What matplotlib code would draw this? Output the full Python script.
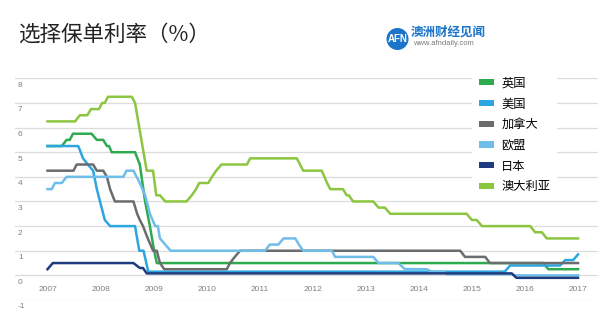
import matplotlib
matplotlib.use("Agg")
import matplotlib.pyplot as plt
from matplotlib.patches import Patch, Ellipse
import numpy as np

plt.rcParams['font.family'] = ['Noto Sans CJK SC', 'DejaVu Sans']

# --- Daten ---
labels = ['英国', '美国', '加拿大', '欧盟', '日本', '澳大利亚']
colors = ['#2EAA4F', '#2CA6E0', '#6B6C6E', '#6FBDE9', '#1F3C7E', '#8CC640']

uk_t = [2007.00, 2007.27, 2007.36, 2007.42, 2007.48, 2007.83, 2007.93, 2008.05, 2008.12, 2008.16,
        2008.21, 2008.65, 2008.74, 2008.84, 2008.93, 2009.01, 2009.06, 2016.35, 2016.44, 2017.00]
uk_v = [5.25, 5.25, 5.5, 5.5, 5.75, 5.75, 5.5, 5.5, 5.25, 5.25,
        5.0, 5.0, 4.5, 3.0, 2.0, 1.0, 0.5, 0.5, 0.25, 0.25]

us_t = [2007.00, 2007.58, 2007.67, 2007.76, 2007.86, 2007.93, 2007.99, 2008.08, 2008.18, 2008.65,
        2008.73, 2008.81, 2008.90, 2015.62, 2015.72, 2016.66, 2016.76, 2016.91, 2017.00]
us_v = [5.25, 5.25, 4.75, 4.5, 4.25, 3.5, 3.0, 2.25, 2.0, 2.0,
        1.0, 1.0, 0.15, 0.15, 0.4, 0.4, 0.62, 0.62, 0.85]

ca_t = [2007.00, 2007.49, 2007.55, 2007.86, 2007.93, 2008.05, 2008.12, 2008.18, 2008.27, 2008.62,
        2008.69, 2008.74, 2008.80, 2008.89, 2008.99, 2009.06, 2009.12, 2009.20, 2010.38, 2010.44,
        2010.53, 2010.63, 2014.78, 2014.87, 2015.25, 2015.34, 2017.00]
ca_v = [4.25, 4.25, 4.5, 4.5, 4.25, 4.25, 4.0, 3.5, 3.0, 3.0,
        2.5, 2.25, 2.0, 1.5, 1.0, 1.0, 0.5, 0.25, 0.25, 0.5,
        0.75, 1.0, 1.0, 0.75, 0.75, 0.5, 0.5]

eu_t = [2007.00, 2007.08, 2007.14, 2007.27, 2007.36, 2008.43, 2008.49, 2008.62, 2008.74, 2008.84,
        2008.93, 2009.03, 2009.08, 2009.12, 2009.22, 2009.32, 2011.10, 2011.19, 2011.35, 2011.45,
        2011.67, 2011.74, 2011.82, 2012.36, 2012.42, 2013.14, 2013.24, 2013.61, 2013.74, 2014.15,
        2014.24, 2014.46, 2014.53, 2015.75, 2015.81, 2017.00]
eu_v = [3.5, 3.5, 3.75, 3.75, 4.0, 4.0, 4.25, 4.25, 3.75, 3.25,
        2.5, 2.0, 2.0, 1.5, 1.25, 1.0, 1.0, 1.25, 1.25, 1.5,
        1.5, 1.25, 1.0, 1.0, 0.75, 0.75, 0.5, 0.5, 0.25, 0.25,
        0.15, 0.15, 0.05, 0.05, 0.0, 0.0]

jp_t = [2007.00, 2007.10, 2008.62, 2008.74, 2008.80, 2008.87, 2015.75, 2015.84, 2017.00]
jp_v = [0.25, 0.5, 0.5, 0.3, 0.3, 0.08, 0.08, -0.1, -0.1]

au_t = [2007.00, 2007.52, 2007.61, 2007.75, 2007.82, 2007.97, 2008.03, 2008.08, 2008.14, 2008.59,
        2008.65, 2008.87, 2008.99, 2009.05, 2009.12, 2009.22, 2009.62, 2009.72, 2009.80, 2009.86,
        2010.03, 2010.10, 2010.18, 2010.28, 2010.76, 2010.82, 2011.70, 2011.76, 2011.82, 2012.17,
        2012.27, 2012.33, 2012.57, 2012.64, 2012.68, 2012.76, 2013.14, 2013.24, 2013.36, 2013.46,
        2014.90, 2015.00, 2015.09, 2015.19, 2016.10, 2016.19, 2016.32, 2016.41, 2017.00]
au_v = [6.25, 6.25, 6.5, 6.5, 6.75, 6.75, 7.0, 7.0, 7.25, 7.25,
        7.0, 4.25, 4.25, 3.25, 3.25, 3.0, 3.0, 3.25, 3.5, 3.75,
        3.75, 4.0, 4.25, 4.5, 4.5, 4.75, 4.75, 4.5, 4.25, 4.25,
        3.75, 3.5, 3.5, 3.25, 3.25, 3.0, 3.0, 2.75, 2.75, 2.5,
        2.5, 2.25, 2.25, 2.0, 2.0, 1.75, 1.75, 1.5, 1.5]

series = [(uk_t, uk_v), (us_t, us_v), (ca_t, ca_v), (eu_t, eu_v), (jp_t, jp_v), (au_t, au_v)]
years = list(range(2007, 2018))
yticks = list(range(-1, 9))

# --- Layout ---
fig = plt.figure(figsize=(6.15, 3.24), dpi=100)
W, H = 615, 324
ax = fig.add_axes([15 / W, (H - 300) / H, 583 / W, 221.7 / H])
ax.set_xlim(2007 - 32.5 / 53.05, 2017 + 20 / 53.05)
ax.set_ylim(-1, 8)
ax.axis('off')

for v in yticks:
    ax.axhline(v, color='#dcdcdc', lw=0.9, zorder=1)
    ax.annotate(str(v), xy=(0, v), xycoords=ax.get_yaxis_transform(),
                xytext=(3, -7), textcoords='offset pixels', ha='left', va='center',
                fontsize=6, color='#808080', family=['Liberation Sans'])

for y in years:
    ax.annotate(str(y), xy=(y, 0), xytext=(0, -14), textcoords='offset pixels',
                ha='center', va='center', fontsize=6, color='#808080', family=['Liberation Sans'])

for (t, v), c in zip(series, colors):
    ax.plot(t, v, color=c, lw=1.8, solid_joinstyle='round', zorder=3)

handles = [Patch(facecolor=c, edgecolor='none') for c in colors]
leg = ax.legend(handles, labels, loc='upper left', bbox_to_anchor=(472 / W, 1 - 70 / H),
                bbox_transform=fig.transFigure, frameon=True, fancybox=False,
                fontsize=8.8, handlelength=1.25, handleheight=0.4, handletextpad=0.6,
                labelspacing=0.63, borderpad=0.55, borderaxespad=0)
leg.get_frame().set_facecolor('white')
leg.get_frame().set_edgecolor('none')
leg.get_frame().set_alpha(1)
leg.set_zorder(5)

# Titel
fig.text(18 / W, 1 - 35 / H, '选择保单利率（%）', fontsize=15.5, color='#222222',
         ha='left', va='center', fontweight='medium')

# Logo oben rechts
fig.patches.append(Ellipse((397.5 / W, 1 - 39 / H), 22 / W, 22 / H, transform=fig.transFigure,
                           facecolor='#1C75C8', edgecolor='none'))
fig.text(397.5 / W, 1 - 39 / H, 'AFN', fontsize=7, color='white', fontweight='bold',
         ha='center', va='center', family=['Liberation Sans'])
fig.text(411 / W, 1 - 32.5 / H, '澳洲财经见闻', fontsize=9, color='#1C75C8', fontweight='bold',
         ha='left', va='center')
fig.text(413 / W, 1 - 43.5 / H, 'www.afndaily.com', fontsize=5.5, color='#7a7a7a',
         ha='left', va='center', family=['Liberation Sans'])

fig.savefig('out.png', dpi=100)
